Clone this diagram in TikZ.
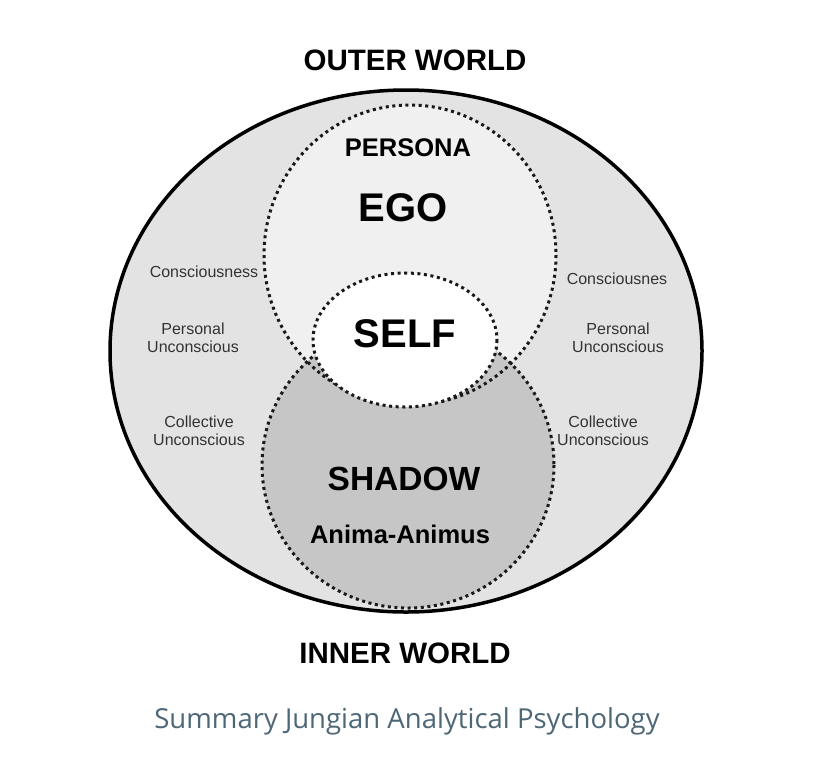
\documentclass[tikz,border=0pt]{standalone}
\usepackage{fontspec}
\setmainfont{Liberation Sans}
\newfontfamily\capfont{Open Sans}
\definecolor{outerfill}{HTML}{E3E3E3}
\definecolor{egofill}{HTML}{F0F0F0}
\definecolor{shadowfill}{HTML}{C6C6C6}
\definecolor{captioncol}{HTML}{4E6777}
\tikzset{
  dotline/.style={line width=3pt, dash pattern=on 3pt off 3.6pt, draw=black!90},
  bigt/.style={font=\bfseries\fontsize{#1}{#1}\selectfont, inner sep=0pt, anchor=base},
  smallt/.style={font=\fontsize{16}{18.5}\selectfont, align=center, inner sep=0pt, text=black!80},
}
\begin{document}
\begin{tikzpicture}[x=1pt,y=-1pt]
\useasboundingbox (0,0) rectangle (816,772);
\fill[white] (0,0) rectangle (816,772);
% outer
\filldraw[fill=outerfill, draw=black, line width=3.5pt] (406,351) ellipse [x radius=296, y radius=261];
% ego and shadow fills
\fill[egofill] (410,255) ellipse [x radius=146, y radius=150];
\fill[shadowfill] (408,465) ellipse [x radius=146, y radius=143];
\draw[dotline] (410,255) ellipse [x radius=146, y radius=150];
\draw[dotline] (408,465) ellipse [x radius=146, y radius=143];
% self
\filldraw[fill=white, dotline] (405,340) ellipse [x radius=92, y radius=67];
% texts
\node[bigt=29.5] (outer) at (415,70) {OUTER WORLD};
\node[bigt=29.5] (inner) at (405,663) {INNER WORLD};
\node[bigt=25.5] (persona) at (408,156) {PERSONA};
\node[bigt=40] (ego) at (403,221) {EGO};
\node[bigt=40] (self) at (405,347) {SELF};
\node[bigt=33.5] (shadow) at (404,490) {SHADOW};
\node[bigt=25.5] (anima) at (400,543) {Anima-Animus};
\node[smallt] (lc) at (204,272) {Consciousness};
\node[smallt] (lp) at (193,338) {Personal\\Unconscious};
\node[smallt] (lcol) at (199,431) {Collective\\Unconscious};
\node[smallt] (rc) at (617,279) {Consciousnes};
\node[smallt] (rp) at (618,338) {Personal\\Unconscious};
\node[smallt] (rcol) at (603,431) {Collective\\Unconscious};
\node[font=\capfont\fontsize{27.5}{27.5}\selectfont, text=captioncol, inner sep=0pt] (cap) at (407,721) {Summary Jungian Analytical Psychology};
\end{tikzpicture}
\end{document}
